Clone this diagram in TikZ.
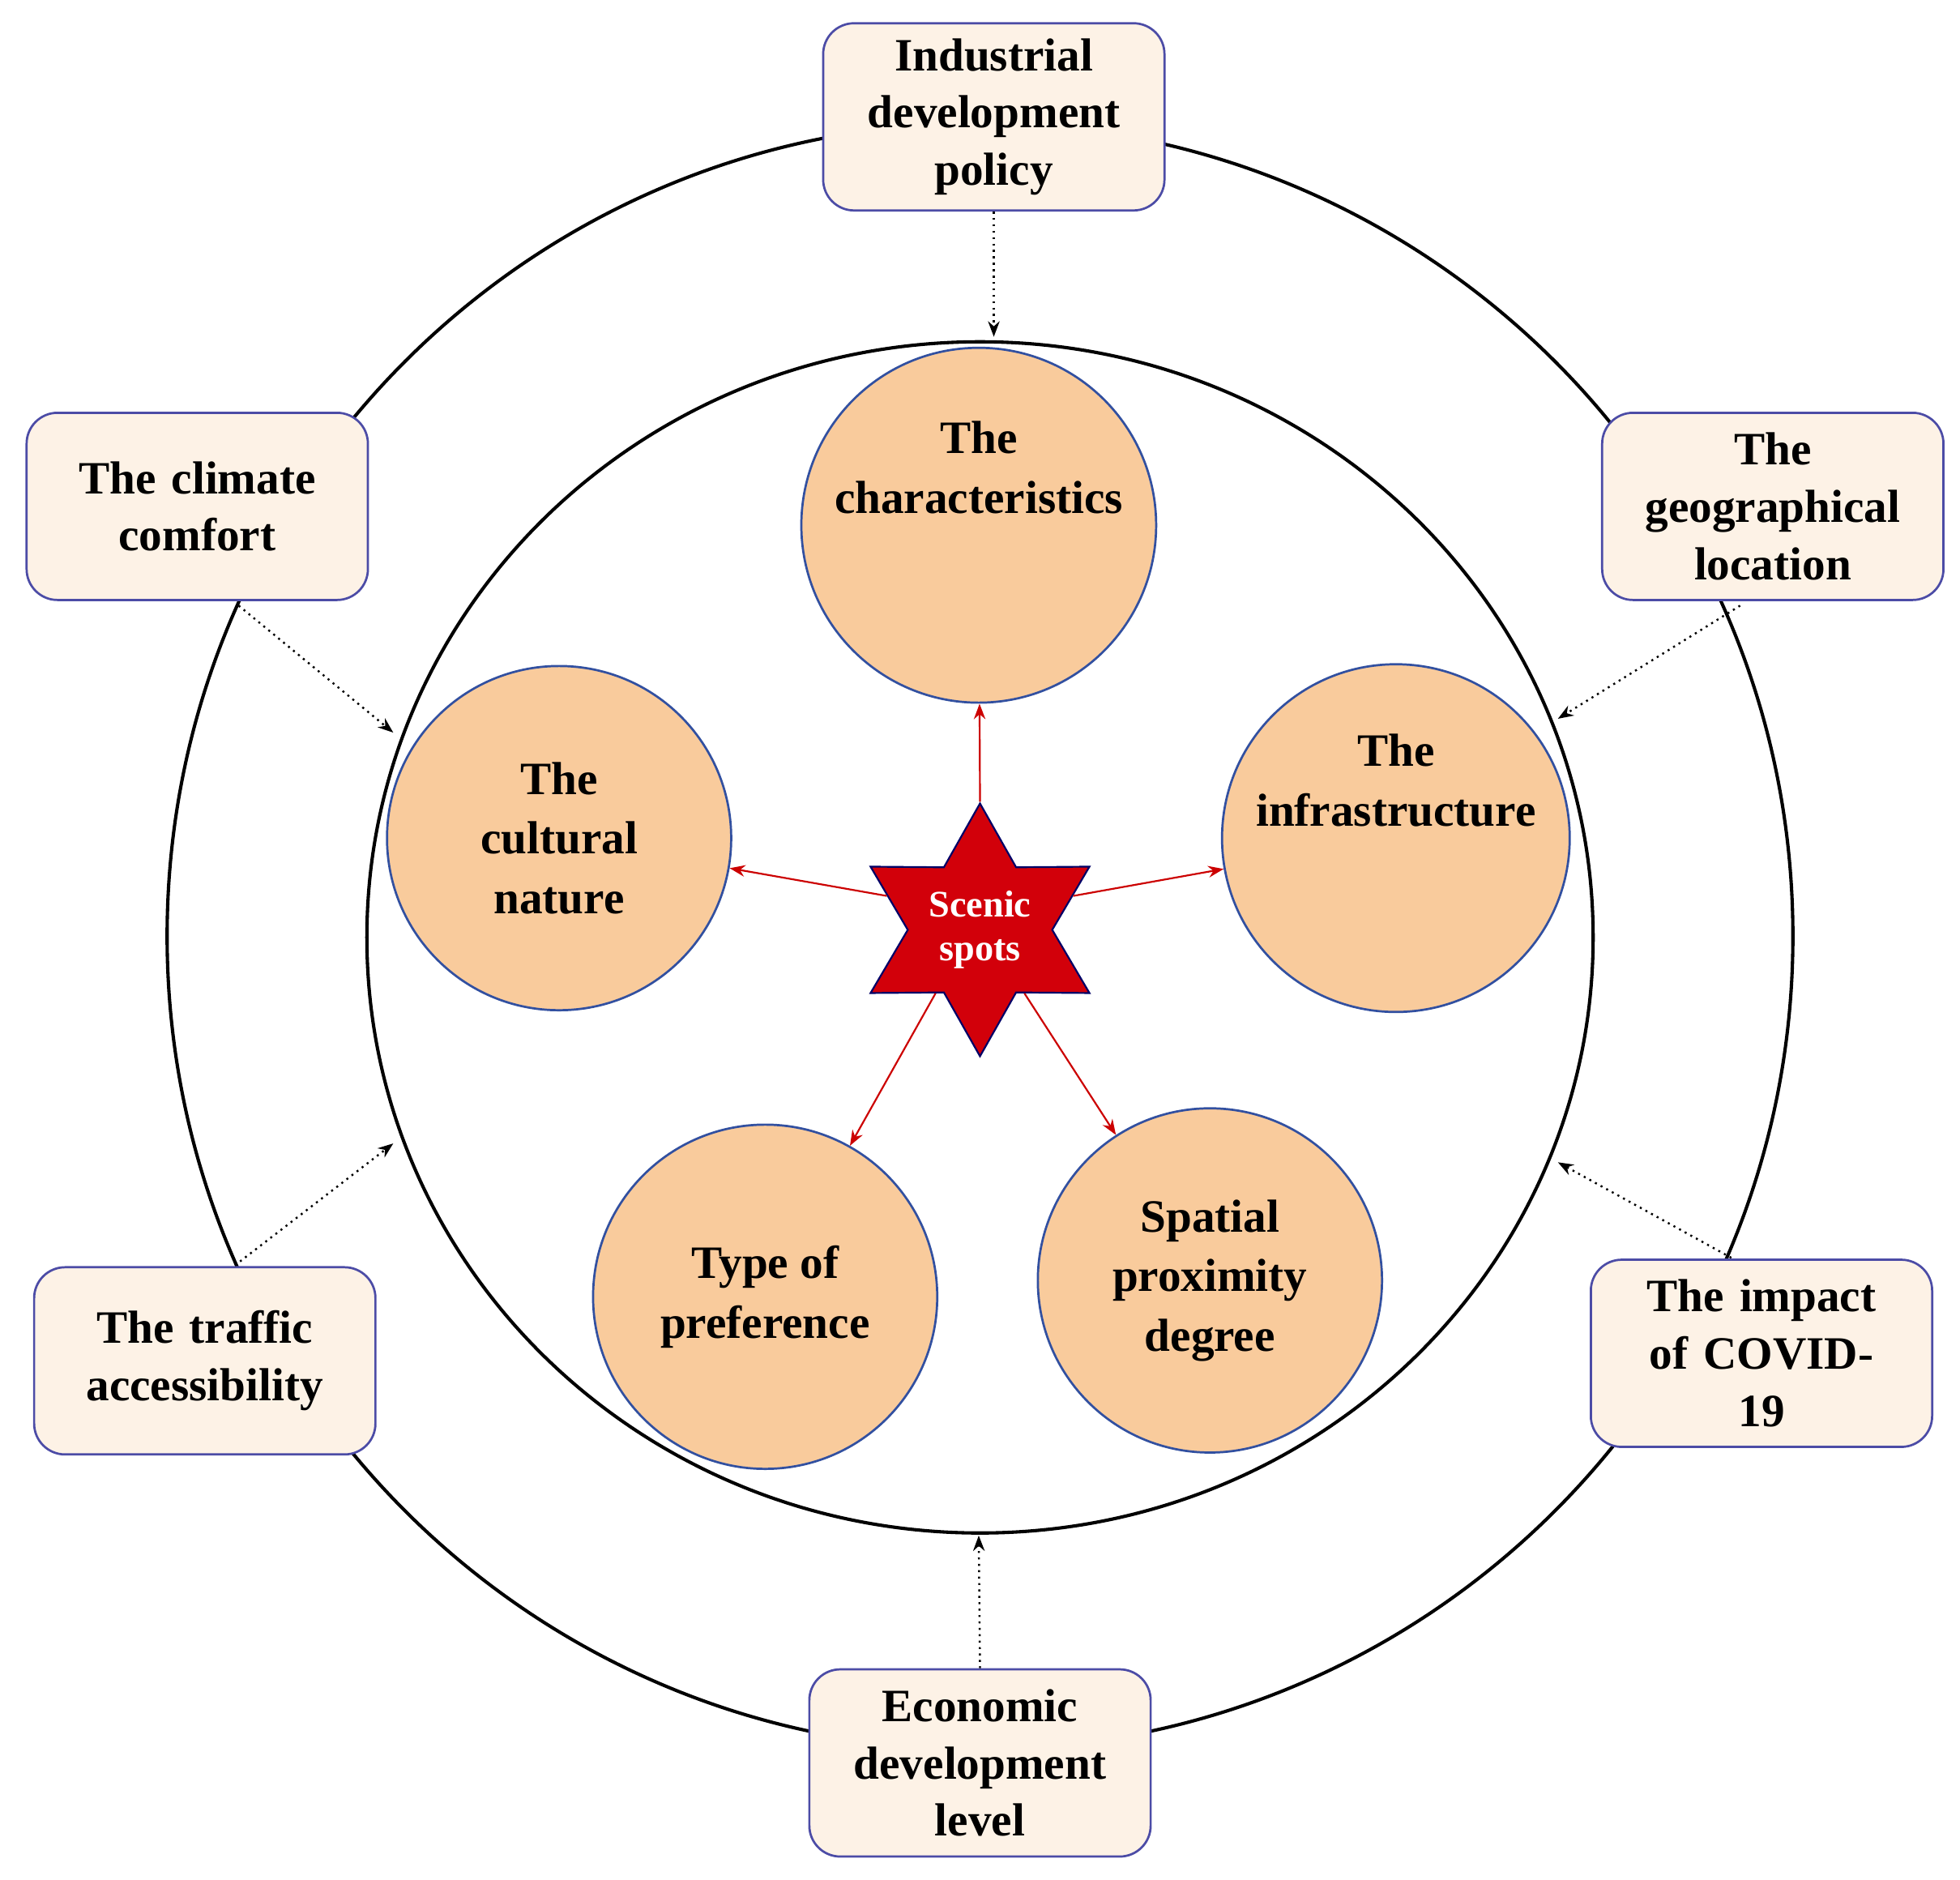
\documentclass[tikz,border=0pt]{standalone}
\usepackage{fontspec}
\setmainfont{Liberation Serif}
\usetikzlibrary{shapes.geometric,arrows.meta}
\begin{document}
\begin{tikzpicture}[x=0.02cm,y=-0.02cm,
  box/.style={draw=blue!50!black!70,line width=1pt,fill={rgb,255:red,253;green,242;blue,230},rounded corners=14pt,minimum width=5.34cm,minimum height=2.98cm,align=center,font=\fontsize{21}{26}\selectfont\bfseries,text width=5.2cm},
  ball/.style={circle,draw={rgb,255:red,50;green,80;blue,160},line width=1pt,fill={rgb,255:red,249;green,203;blue,156},minimum size=5.48cm,align=center,font=\fontsize{21}{27}\selectfont\bfseries,inner sep=0pt},
  rarr/.style={-{Stealth[length=7pt]},red!80!black,line width=0.8pt},
  darr/.style={-{Stealth[length=7pt]},black,line width=0.9pt,dotted}]
\useasboundingbox (0,0) rectangle (1560,1496);
\draw[line width=1.5pt] (780,745) circle[radius=647];
\draw[line width=1.5pt] (780,746) ellipse[x radius=488,y radius=474];
\node[box] (ind) at (791,93) {Industrial\\development\\policy};
\node[box] (cli) at (157,403) {The climate\\comfort};
\node[box] (geo) at (1411,403) {The\\geographical\\location};
\node[box] (tra) at (163,1083) {The traffic\\accessibility};
\node[box] (cov) at (1402,1077) {The impact\\of COVID-\\19};
\node[box] (eco) at (780,1403) {Economic\\development\\level};
\node[ball] (cha) at (779,418) {The\\characteristics\\[0.9cm]};
\node[ball] (cul) at (445,667) {The\\cultural\\nature};
\node[ball] (inf) at (1111,667) {The\\infrastructure\\[0.9cm]};
\node[ball] (typ) at (609,1032) {Type of\\preference};
\node[ball] (spa) at (963,1019) {Spatial\\proximity\\degree};
\node[star,star points=6,star point ratio=1.75,minimum size=3.5cm,fill={rgb,255:red,210;green,0;blue,10},draw=blue!40!black,line width=0.8pt,inner sep=0pt,text=white,align=center,font=\fontsize{17}{20}\selectfont\bfseries] (sc) at (780,740) {Scenic\\spots};
\draw[rarr] (sc.north) -- (cha);
\draw[rarr] (sc.160) -- (cul);
\draw[rarr] (sc.20) -- (inf);
\draw[rarr] (sc.235) -- (typ);
\draw[rarr] (sc.305) -- (spa);
\coordinate (i1) at (791,268);
\coordinate (c1) at (313,583);
\coordinate (g1) at (1240,572);
\coordinate (t1) at (313,910);
\coordinate (v1) at (1240,925);
\coordinate (e1) at (779,1222);
\draw[darr] (ind.south) -- (i1);
\draw[darr] (190,482) -- (c1);
\draw[darr] (1385,482) -- (g1);
\draw[darr] (187,1007) -- (t1);
\draw[darr] (1378,1001) -- (v1);
\draw[darr] (eco.north) -- (e1);
\end{tikzpicture}
\end{document}
